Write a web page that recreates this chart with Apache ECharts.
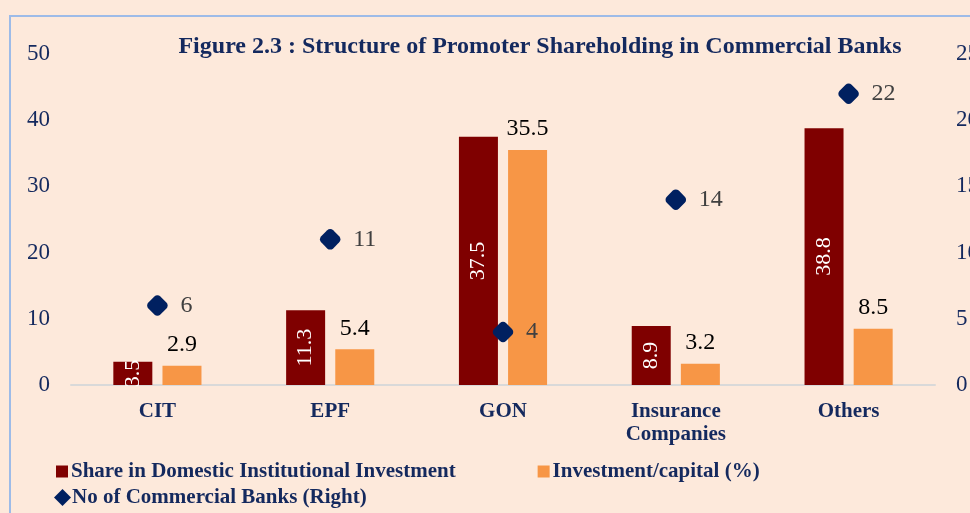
<!DOCTYPE html>
<html>
<head>
<meta charset="utf-8">
<script src="https://cdn.jsdelivr.net/npm/echarts@6/dist/echarts.min.js"></script>
<style>
  html, body { margin: 0; padding: 0; background: #FDE9DB; }
  #main { width: 970px; height: 513px; }
</style>
</head>
<body>
<div id="main"></div>
<script>
  // values
  const categories = ['CIT', 'EPF', 'GON', 'Insurance\nCompanies', 'Others'];
  const shareDomestic = [3.5, 11.3, 37.5, 8.9, 38.8];
  const investCapital = [2.9, 5.4, 35.5, 3.2, 8.5];
  const bankCount = [6, 11, 4, 14, 22];

  const serif = '"Liberation Serif", "DejaVu Serif", serif';
  const navy = '#14295E';

  const chart = echarts.init(document.getElementById('main'));
  chart.setOption({
    backgroundColor: '#FDE9DB',
    textStyle: { fontFamily: serif },
    title: {
      text: 'Figure 2.3 : Structure of Promoter Shareholding in Commercial Banks',
      left: 535, top: 30, textAlign: 'center',
      textStyle: { fontFamily: serif, fontWeight: 'bold', fontSize: 24, color: navy }
    },
    graphic: [{
      type: 'rect',
      shape: { x: 10, y: 16, width: 1000, height: 600 },
      style: { fill: 'none', stroke: '#9DBBE8', lineWidth: 2 },
      silent: true
    }],
    legend: [{
      data: [
        { name: 'Share in Domestic Institutional Investment', icon: 'rect' },
        { name: 'Investment/capital (%)', icon: 'rect' }
      ],
      left: 51, top: 456,
      itemWidth: 12, itemHeight: 12, itemGap: 82,
      textStyle: { fontFamily: serif, fontWeight: 'bold', fontSize: 21, color: navy, padding: [0, 0, 0, -2] }
    }, {
      data: [{ name: 'No of Commercial Banks (Right)', icon: 'diamond' }],
      left: 49, top: 482,
      itemWidth: 17, itemHeight: 17,
      textStyle: { fontFamily: serif, fontWeight: 'bold', fontSize: 21, color: navy, padding: [0, 0, 0, -4] }
    }],
    grid: { left: 71, right: 35, top: 54, bottom: 128, outerBoundsMode: 'none' },
    xAxis: {
      type: 'category',
      data: categories,
      axisTick: { show: false },
      axisLine: { lineStyle: { color: '#D9D9D9', width: 2 } },
      axisLabel: {
        margin: 15, fontFamily: serif, fontWeight: 'bold', fontSize: 21,
        color: navy, lineHeight: 23
      }
    },
    yAxis: [{
      type: 'value', min: 0, max: 50, interval: 10,
      splitLine: { show: false },
      axisLine: { show: false }, axisTick: { show: false },
      axisLabel: { margin: 21, fontFamily: serif, fontSize: 23, color: navy }
    }, {
      type: 'value', min: 0, max: 25, interval: 5,
      splitLine: { show: false },
      axisLine: { show: false }, axisTick: { show: false },
      axisLabel: { margin: 21, fontFamily: serif, fontSize: 23, color: navy }
    }],
    series: [{
      name: 'Share in Domestic Institutional Investment',
      type: 'bar',
      data: shareDomestic,
      barWidth: 39,
      barGap: '26%',
      itemStyle: { color: '#7F0000' },
      label: {
        show: true, position: 'inside', rotate: 90,
        fontFamily: serif, fontSize: 22, color: '#FFFFFF'
      }
    }, {
      name: 'Investment/capital (%)',
      type: 'bar',
      data: investCapital,
      barWidth: 39,
      itemStyle: { color: '#F79646' },
      label: {
        show: true, position: 'top', distance: 9,
        fontFamily: serif, fontSize: 24, color: '#000000'
      }
    }, {
      name: 'No of Commercial Banks (Right)',
      type: 'scatter',
      yAxisIndex: 1,
      data: bankCount,
      symbol: 'roundRect',
      symbolRotate: 45,
      symbolSize: 17,
      itemStyle: { color: '#002060', opacity: 1 },
      label: {
        show: true, position: 'right', distance: 11,
        fontFamily: serif, fontSize: 24, color: '#404040'
      }
    }]
  });
</script>
</body>
</html>
